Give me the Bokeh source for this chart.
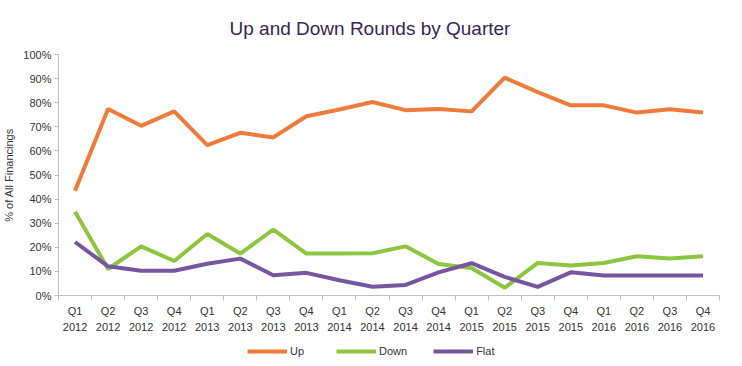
from bokeh.plotting import figure
from bokeh.layouts import column
from bokeh.models import (FixedTicker, PrintfTickFormatter, Legend, LegendItem,
                          Range1d, ColumnDataSource)
from bokeh.embed import file_html
from bokeh.resources import INLINE

quarters = ["Q1\n2012", "Q2\n2012", "Q3\n2012", "Q4\n2012",
            "Q1\n2013", "Q2\n2013", "Q3\n2013", "Q4\n2013",
            "Q1\n2014", "Q2\n2014", "Q3\n2014", "Q4\n2014",
            "Q1\n2015", "Q2\n2015", "Q3\n2015", "Q4\n2015",
            "Q1\n2016", "Q2\n2016", "Q3\n2016", "Q4\n2016"]
up = [43.5, 77.4, 70.4, 76.4, 62.4, 67.5, 65.6, 74.4, 77.2, 80.3,
      76.9, 77.4, 76.4, 90.4, 84.4, 78.9, 78.9, 75.9, 77.3, 75.9]
down = [34.8, 11.0, 20.4, 14.3, 25.5, 17.4, 27.3, 17.4, 17.4, 17.5,
        20.4, 13.1, 11.4, 3.2, 13.5, 12.4, 13.5, 16.3, 15.4, 16.3]
flat = [22.2, 12.1, 10.3, 10.3, 13.2, 15.3, 8.4, 9.4, 6.3, 3.6,
        4.4, 9.6, 13.4, 7.7, 3.6, 9.6, 8.3, 8.3, 8.3, 8.3]
y_ticks = list(range(0, 101, 10))
series_names = ["Up", "Down", "Flat"]
series_colors = ["#ef7b3a", "#8cc63f", "#77559f"]

FONT = "Liberation Sans"
idx = list(range(len(quarters)))
src = ColumnDataSource(dict(x=idx, Up=up, Down=down, Flat=flat))

p = figure(width=726, height=341, output_backend="svg", toolbar_location=None,
           x_range=Range1d(-0.5, len(quarters) - 0.5), y_range=Range1d(0, 100),
           min_border_left=48, min_border_right=7, min_border_top=53,
           min_border_bottom=46)
p.outline_line_color = None
p.background_fill_color = "white"
p.border_fill_color = "white"

p.title.text = "Up and Down Rounds by Quarter"
p.title.text_font = FONT
p.title.text_font_size = "19px"
p.title.text_font_style = "normal"
p.title.text_color = "#3a2458"
p.title.align = "left"
p.title.offset = 171
p.title.standoff = 31

# grids
p.xgrid.visible = False
p.ygrid.ticker = FixedTicker(ticks=[100])
p.ygrid.grid_line_color = "#c8c8c8"
p.ygrid.grid_line_width = 1.5

# y axis
ya = p.yaxis[0]
ya.ticker = FixedTicker(ticks=y_ticks)
ya.formatter = PrintfTickFormatter(format="%d%%")
ya.axis_line_color = "#c0c0c0"
ya.major_tick_line_color = "#c0c0c0"
ya.major_tick_in = 0
ya.major_tick_out = 4
ya.minor_tick_line_color = None
ya.major_label_text_font = FONT
ya.major_label_text_font_size = "11px"
ya.major_label_text_color = "#333333"
ya.major_label_standoff = 3
ya.axis_label = "% of All Financings"
ya.axis_label_text_font = FONT
ya.axis_label_text_font_size = "11px"
ya.axis_label_text_font_style = "normal"
ya.axis_label_text_color = "#333333"
ya.axis_label_standoff = 5

# x axis
xa = p.xaxis[0]
edges = [i - 0.5 for i in range(len(quarters) + 1)]
xa.ticker = FixedTicker(ticks=idx, minor_ticks=edges)
xa.major_label_overrides = {i: q for i, q in enumerate(quarters)}
xa.axis_line_color = "#c0c0c0"
xa.major_tick_line_color = None
xa.minor_tick_line_color = "#c0c0c0"
xa.minor_tick_in = 0
xa.minor_tick_out = 5
xa.major_tick_out = 5
xa.major_tick_in = 0
xa.major_label_text_font = FONT
xa.major_label_text_font_size = "11px"
xa.major_label_text_color = "#333333"
xa.major_label_text_line_height = 1.35
xa.major_label_standoff = 4

lw = 4
for name, color in zip(series_names, series_colors):
    p.line("x", name, source=src, line_color=color, line_width=lw)

# legend strip below the chart (its series lie outside its visible range)
lg = figure(width=726, height=16, output_backend="svg", toolbar_location=None,
            x_range=p.x_range, y_range=Range1d(-20, -10),
            x_axis_location=None, y_axis_location=None, min_border=0,
            min_border_left=48, min_border_right=7)
lg.outline_line_color = None
lg.grid.visible = False
items = []
for name, color in zip(series_names, series_colors):
    r = lg.line("x", name, source=src, line_color=color, line_width=lw)
    items.append(LegendItem(label=name, renderers=[r]))
legend = Legend(items=items, orientation="horizontal", location=(189, 0),
                glyph_width=40, glyph_height=12, label_height=12,
                label_standoff=3, spacing=26, padding=0, margin=0,
                border_line_color=None, background_fill_alpha=0,
                label_text_font=FONT, label_text_font_size="11px",
                label_text_color="#333333")
lg.add_layout(legend, "center")

layout = column(p, lg, spacing=0)
open("out.html", "w").write(file_html(layout, INLINE))
